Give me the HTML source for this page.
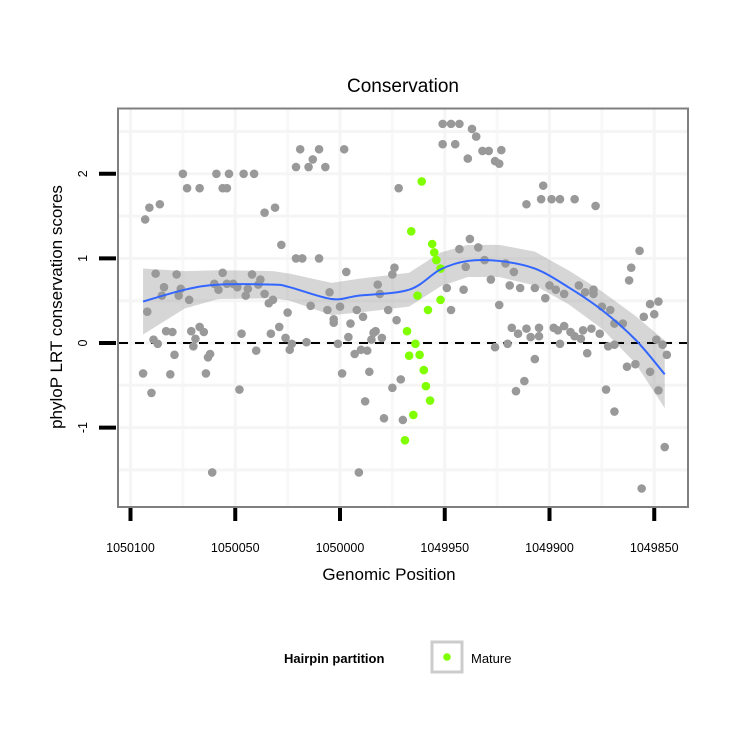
<!DOCTYPE html>
<html><head><meta charset="utf-8"><style>
body{margin:0;background:#fff;}
svg{display:block;font-family:"Liberation Sans",sans-serif;}
</style></head><body>
<svg id="chart" width="750" height="750" viewBox="0 0 750 750">
<rect width="750" height="750" fill="#fff"/>
<g id="grid"></g>
<g id="band"></g>
<g id="zero"></g>
<g id="pts"></g>
<g id="fit"></g>
<rect x="118" y="108.5" width="570" height="398.5" fill="none" stroke="#7f7f7f" stroke-width="2"/>
<g id="axes"></g>
<text x="403" y="92" font-size="19" text-anchor="middle">Conservation</text>
<text x="389" y="580" font-size="17" text-anchor="middle">Genomic Position</text>
<text transform="translate(62,307) rotate(-90)" font-size="17" text-anchor="middle">phyloP LRT conservation scores</text>
<g>
<text x="284" y="663" font-size="13" font-weight="bold">Hairpin partition</text>
<rect x="432" y="642" width="30" height="30" fill="#fff" stroke="#cccccc" stroke-width="3"/>
<circle cx="447" cy="657" r="3.8" fill="#7fff00"/>
<text x="471" y="663" font-size="13">Mature</text>
</g>
</svg>
<script>
const xTicks=[1050100,1050050,1050000,1049950,1049900,1049850];
const xTickLabels=["1050100","1050050","1050000","1049950","1049900","1049850"];
const yTicks=[-1,0,1,2];
const yTickLabels=["-1","0","1","2"];
const grayPos=[1050093,1050091,1050086,1050075,1050073,1050067,1050059,1050053,1050046,1050041,1050056,1050054,1050036,1050031,1050019,1050010,1049998,1050013,1050021,1050015,1050007,1049972,1050028,1050021,1050018,1050010,1049997,1049974,1049975,1050088,1050078,1050084,1050076,1050085,1050077,1050072,1050092,1050056,1050060,1050054,1050051,1050058,1050049,1050042,1050038,1050044,1050045,1050039,1050036,1050032,1050034,1050005,1050014,1050006,1050000,1049992,1050003,1050003,1049989,1049995,1049982,1049981,1049977,1049973,1050025,1050083,1050080,1050089,1050087,1050079,1050071,1050067,1050065,1050069,1050070,1050062,1050063,1050047,1050040,1050033,1050029,1050026,1050023,1050024,1050016,1050001,1049996,1049993,1049990,1049987,1049984,1049983,1049980,1049985,1050094,1050081,1050064,1050090,1050048,1049999,1049986,1049971,1049975,1049988,1049979,1049970,1050061,1049991,
1049947,1049943,1049951,1049937,1049935,1049951,1049945,1049932,1049929,1049923,1049939,1049926,1049924,1049903,1049911,1049904,1049899,1049895,1049888,1049878,1049938,1049943,1049934,1049931,1049940,1049921,1049917,1049928,1049949,1049941,1049947,1049919,1049914,1049907,1049900,1049897,1049902,1049924,1049893,1049886,1049883,1049879,1049879,1049875,1049871,1049869,1049865,1049857,1049861,1049862,1049855,1049852,1049848,1049850,1049918,1049915,1049911,1049909,1049905,1049905,1049898,1049896,1049893,1049890,1049888,1049885,1049884,1049880,1049876,1049926,1049920,1049895,1049872,1049869,1049882,1049907,1049863,1049859,1049852,1049849,1049846,1049844,1049912,1049916,1049873,1049869,1049848,1049845,1049856];
const grayVal=[1.46,1.60,1.64,2.00,1.83,1.83,2.00,2.00,2.00,2.00,1.83,1.83,1.54,1.60,2.29,2.29,2.29,2.17,2.08,2.08,2.08,1.83,1.16,1.00,1.00,1.00,0.84,0.89,0.81,0.82,0.81,0.66,0.64,0.56,0.56,0.51,0.37,0.83,0.70,0.70,0.70,0.63,0.66,0.81,0.75,0.64,0.56,0.69,0.58,0.51,0.47,0.60,0.44,0.39,0.43,0.39,0.28,0.24,0.31,0.23,0.69,0.58,0.39,0.27,0.36,0.14,0.13,0.04,-0.01,-0.14,0.14,0.19,0.13,0.05,-0.04,-0.13,-0.17,0.11,-0.09,0.11,0.19,0.06,-0.01,-0.08,0.01,-0.01,0.07,-0.13,-0.08,-0.09,0.12,0.14,0.06,0.04,-0.36,-0.37,-0.36,-0.59,-0.55,-0.36,-0.34,-0.43,-0.53,-0.69,-0.89,-0.91,-1.53,-1.53,
2.59,2.59,2.59,2.53,2.44,2.35,2.35,2.27,2.27,2.28,2.18,2.15,2.12,1.86,1.64,1.70,1.70,1.70,1.70,1.62,1.23,1.11,1.13,0.98,0.90,0.94,0.84,0.75,0.65,0.63,0.39,0.68,0.65,0.65,0.68,0.63,0.53,0.45,0.58,0.68,0.60,0.58,0.63,0.43,0.39,0.23,0.23,1.09,0.89,0.74,0.31,0.46,0.49,0.34,0.18,0.11,0.17,0.07,0.08,0.18,0.18,0.15,0.20,0.13,0.08,0.05,0.15,0.17,0.11,-0.05,-0.01,-0.01,-0.04,-0.02,-0.12,-0.19,-0.28,-0.25,-0.34,0.04,-0.02,-0.14,-0.45,-0.57,-0.55,-0.81,-0.56,-1.23,-1.72];
const maturePos=[1049961,1049966,1049956,1049955,1049954,1049952,1049963,1049958,1049952,1049968,1049964,1049967,1049962,1049960,1049959,1049957,1049965,1049969];
const matureVal=[1.91,1.32,1.17,1.07,0.98,0.88,0.56,0.39,0.51,0.14,-0.01,-0.15,-0.14,-0.32,-0.51,-0.68,-0.85,-1.15];
const fitPos=[1050094,1050074,1050058,1050032,1050024,1050004,1049991,1049967,1049952,1049939,1049924,1049907,1049891,1049875,1049859,1049845];
const fitVal=[0.49,0.63,0.69,0.69,0.66,0.52,0.56,0.63,0.87,0.97,0.97,0.88,0.66,0.39,0.04,-0.37];
const fitSe=[0.39,0.22,0.17,0.16,0.16,0.19,0.20,0.20,0.20,0.19,0.19,0.20,0.20,0.22,0.28,0.40];

const NS='http://www.w3.org/2000/svg';
const X=p=>130.5+(1050100-p)*2.095;
const Y=v=>343-v*84.6;
function mk(tag,attrs,parent){const e=document.createElementNS(NS,tag);for(const k in attrs)e.setAttribute(k,attrs[k]);parent.appendChild(e);return e;}
const grid=document.getElementById('grid');
for(let i=0;i<xTicks.length;i++){
  const l=mk('line',{x1:X(xTicks[i]),x2:X(xTicks[i]),y1:109,y2:506,stroke:'#f5f5f5','stroke-width':3},grid);
  
  
  const mx=X(xTicks[i]-25);
  if(mx<686){
    const m=mk('line',{x1:mx,x2:mx,y1:109,y2:506,stroke:'#f8f8f8','stroke-width':3},grid);
    
    
  }
}
for(let v=-1.5;v<=2.5;v+=0.5){
  const l=mk('line',{x1:119,x2:687,y1:Y(v),y2:Y(v),stroke:'#f5f5f5','stroke-width':3},grid);
  
  
}
let up=[],dn=[];
for(let i=0;i<fitPos.length;i++){up.push(X(fitPos[i])+','+Y(fitVal[i]+fitSe[i]));dn.unshift(X(fitPos[i])+','+Y(fitVal[i]-fitSe[i]));}
const band=mk('polygon',{points:up.concat(dn).join(' '),fill:'#999999','fill-opacity':0.4},document.getElementById('band'));


const z=mk('line',{x1:119,x2:687,y1:Y(0),y2:Y(0),stroke:'#000','stroke-width':2,'stroke-dasharray':'9,7'},document.getElementById('zero'));


const pts=document.getElementById('pts');
for(let i=0;i<grayPos.length;i++){
  const c=mk('circle',{cx:X(grayPos[i]),cy:Y(grayVal[i]),r:4.3,fill:'#999999'},pts);
  
  
}
for(let i=0;i<maturePos.length;i++){
  const c=mk('circle',{cx:X(maturePos[i]),cy:Y(matureVal[i]),r:4.3,fill:'#7fff00'},pts);
  
  
}
const P=fitPos.map((p,i)=>[X(p),Y(fitVal[i])]);
let d='M'+P[0][0]+','+P[0][1];
for(let i=0;i<P.length-1;i++){
  const p0=P[Math.max(0,i-1)],p1=P[i],p2=P[i+1],p3=P[Math.min(P.length-1,i+2)];
  d+=' C'+(p1[0]+(p2[0]-p0[0])/6)+','+(p1[1]+(p2[1]-p0[1])/6)+' '+(p2[0]-(p3[0]-p1[0])/6)+','+(p2[1]-(p3[1]-p1[1])/6)+' '+p2[0]+','+p2[1];
}
const fl=mk('path',{d:d,fill:'none',stroke:'#3366ff','stroke-width':2},document.getElementById('fit'));


const axes=document.getElementById('axes');
for(let i=0;i<xTicks.length;i++){
  const t=mk('line',{x1:X(xTicks[i]),x2:X(xTicks[i]),y1:508,y2:521,stroke:'#000','stroke-width':4},axes);
  
  
  const tx=mk('text',{x:X(xTicks[i]),y:552,'font-size':12.5,'text-anchor':'middle'},axes);
  tx.textContent=xTickLabels[i];
  
  
}
for(let i=0;i<yTicks.length;i++){
  const t=mk('line',{x1:99,x2:116,y1:Y(yTicks[i]),y2:Y(yTicks[i]),stroke:'#000','stroke-width':4},axes);
  
  
  const tx=mk('text',{transform:'translate(87,'+Y(yTicks[i])+') rotate(-90)','font-size':12.5,'text-anchor':'middle'},axes);
  tx.textContent=yTickLabels[i];
  
  
}
</script>
</body></html>
